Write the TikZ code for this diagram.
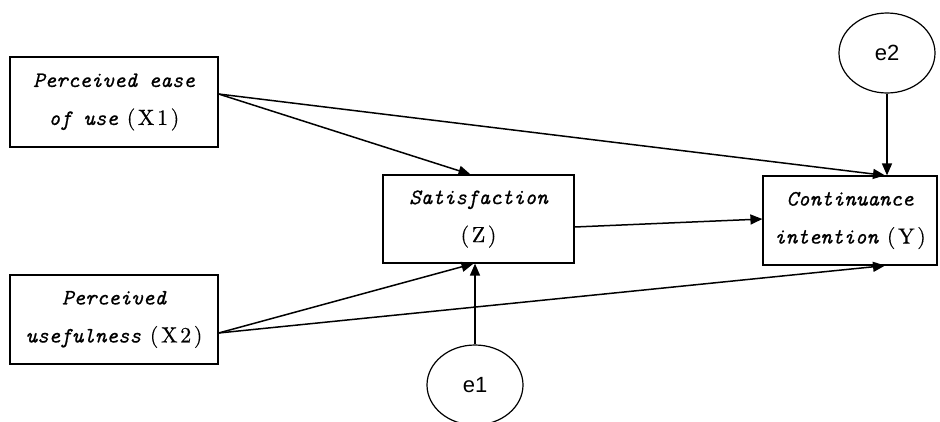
\documentclass[tikz,border=0pt]{standalone}
\usepackage{fontspec}
\setsansfont{Liberation Sans}
\newfontfamily\boxit{lmmono10-italic.otf}[FakeBold=0.6]
\newfontfamily\boxrm{lmroman10-regular.otf}[LetterSpace=12,FakeBold=0.4]
\newcommand\tag[1]{{\boxrm\fontsize{22}{38}\selectfont(#1)}}
\usetikzlibrary{arrows.meta,shapes.geometric}

\begin{document}
\begin{tikzpicture}[x=1pt,y=-1pt,
  box/.style={draw, line width=1.2pt, rectangle, align=center, inner sep=0pt,
    font=\boxit\fontsize{22}{38}\selectfont},
  err/.style={draw, line width=1.2pt, ellipse, inner sep=0pt,
    minimum width=96pt, minimum height=80pt,
    font=\sffamily\fontsize{22}{26}\selectfont},
  link/.style={line width=1.5pt, -{Triangle[length=12pt,width=10pt]}}]

\useasboundingbox (0,0) rectangle (940,421);

% observed variables
\node[box, minimum width=208pt, minimum height=90pt] (x1) at (114,102)
  {Perceived ease\\of use\hspace{0.4em}\tag{X1}};
\node[box, minimum width=208pt, minimum height=89pt] (x2) at (114,319.5)
  {Perceived\\usefulness\hspace{0.4em}\tag{X2}};
\node[box, minimum width=191pt, minimum height=88pt] (z) at (478.5,219)
  {Satisfaction\\\tag{Z}};
\node[box, minimum width=174pt, minimum height=89pt] (y) at (850,220.5)
  {Continuance\\intention\hspace{0.4em}\tag{Y}};

% error terms
\node[err] (e2) at (887,53) {e2};
\node[err] (e1) at (475,385) {e1};

% paths
\draw[link] ([yshift=8pt]x1.east) -- ([xshift=-8pt]z.north);
\draw[link] ([yshift=8pt]x1.east) -- ([xshift=35pt]y.north);
\draw[link] (e2.south) -- ([xshift=37pt]y.north);
\draw[link] ([yshift=-8pt]z.east) -- ([yshift=1.5pt]y.west);
\draw[link] ([yshift=-13.5pt]x2.east) -- ([xshift=-5pt]z.south);
\draw[link] ([yshift=-13.5pt]x2.east) -- ([xshift=35pt]y.south);
\draw[link] (e1.north) -- ([xshift=-3.5pt]z.south);
\end{tikzpicture}
\end{document}
